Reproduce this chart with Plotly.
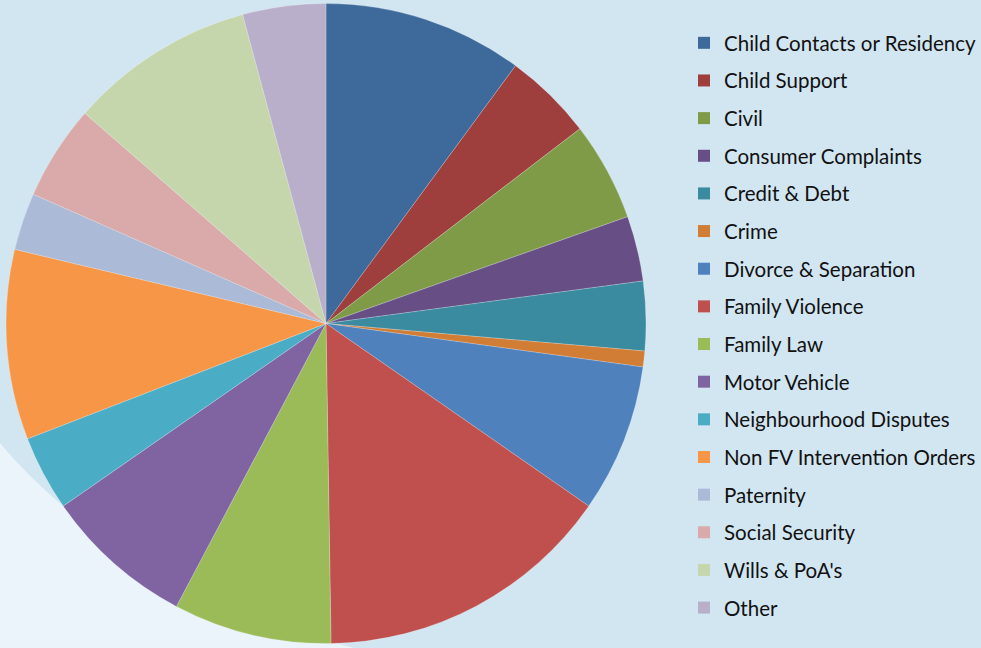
import plotly.graph_objects as go

labels = ["Child Contacts or Residency", "Child Support", "Civil", "Consumer Complaints",
          "Credit & Debt", "Crime", "Divorce & Separation", "Family Violence", "Family Law",
          "Motor Vehicle", "Neighbourhood Disputes", "Non FV Intervention Orders", "Paternity",
          "Social Security", "Wills & PoA's", "Other"]
values = [10.1, 4.5, 5.0, 3.3, 3.5, 0.8, 7.5, 15.1, 8.0, 7.6, 3.8, 9.6, 2.9, 4.8, 9.4, 4.2]
colors = ["#3E6A9B", "#9E3F3D", "#7F9B47", "#674F86", "#3A8BA0", "#D17D35",
          "#4F81BD", "#C0504D", "#9BBB59", "#8064A2", "#4BACC6", "#F79646",
          "#AABAD7", "#D9AAA9", "#C6D6AC", "#B9AFCB"]

W, H = 981, 648
fig = go.Figure()
fig.add_trace(go.Pie(
    labels=labels, values=values, sort=False, direction="clockwise", rotation=0,
    marker=dict(colors=colors, line=dict(color="rgba(255,255,255,0.35)", width=0.6)),
    textinfo="none", hoverinfo="label+percent", showlegend=False,
    domain=dict(x=[6 / W, 646 / W], y=[4.5 / H, 644.5 / H]),
))

# legend entries (one group each so spacing can be controlled)
for lab, col in zip(labels, colors):
    fig.add_trace(go.Scatter(
        x=[None], y=[None], mode="markers", name=lab, legendgroup=lab,
        marker=dict(symbol="square", size=12, color=col),
        showlegend=True, hoverinfo="skip",
    ))

fig.update_layout(
    width=W, height=H,
    margin=dict(l=0, r=0, t=0, b=0, autoexpand=False),
    paper_bgcolor="#d2e6f2", plot_bgcolor="rgba(0,0,0,0)",
    xaxis=dict(visible=False), yaxis=dict(visible=False),
    legend=dict(
        x=684 / W, xanchor="left", y=1 - 23 / H, yanchor="top",
        font=dict(family="Lato", size=20.5, color="#111111"),
        bgcolor="rgba(0,0,0,0)", tracegroupgap=8, traceorder="grouped",
        itemclick=False,
    ),
    shapes=[
        dict(type="path", xref="paper", yref="paper", layer="below",
             path="M 0,0.316 Q 0.12,0.10 0.36,0 L 0,0 Z",
             fillcolor="#eaf4fa", line=dict(width=0)),
    ],
)

fig.write_html("out.html")
